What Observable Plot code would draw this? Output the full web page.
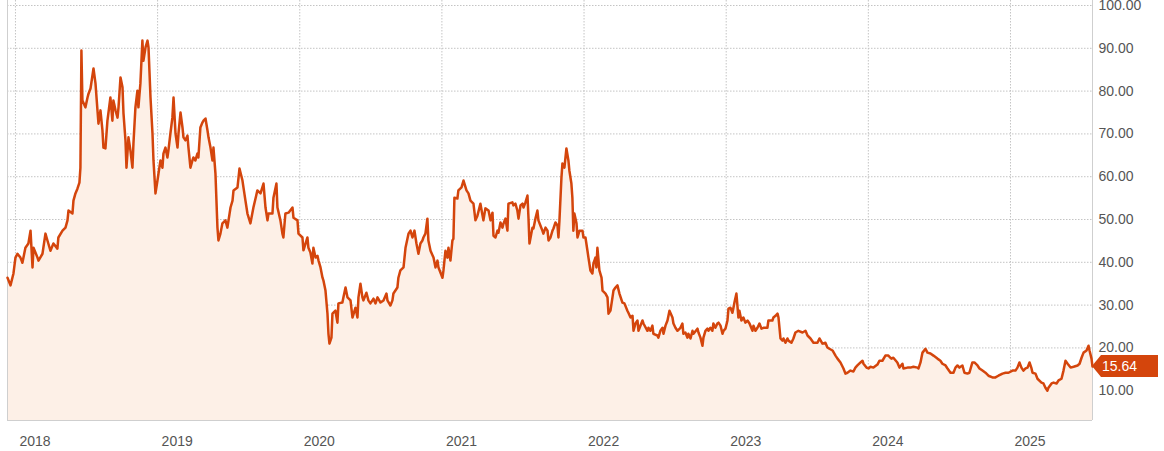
<!DOCTYPE html>
<html>
<head>
<meta charset="utf-8">
<script src="https://cdn.jsdelivr.net/npm/d3@7"></script>
<script src="https://cdn.jsdelivr.net/npm/@observablehq/plot@0.6"></script>
<style>
  html, body { margin: 0; padding: 0; background: #fff; }
  #chart svg { display: block; }
</style>
</head>
<body>
<div id="chart"></div>
<script>
// Time in decimal years, price values
const times = [
2017.944,2017.965,2017.986,2018.000,2018.014,2018.035,2018.049,2018.070,2018.091,2018.106,
2018.120,2018.127,2018.155,2018.162,2018.190,2018.211,2018.225,2018.246,2018.267,2018.295,
2018.302,2018.331,2018.352,2018.366,2018.373,2018.401,2018.408,2018.422,2018.436,2018.450,
2018.457,2018.464,2018.471,2018.492,2018.507,2018.514,2018.528,2018.549,2018.563,2018.577,
2018.584,2018.598,2018.612,2018.619,2018.633,2018.647,2018.668,2018.682,2018.689,2018.704,
2018.718,2018.725,2018.739,2018.753,2018.760,2018.774,2018.781,2018.795,2018.809,2018.823,
2018.830,2018.844,2018.858,2018.865,2018.879,2018.893,2018.900,2018.915,2018.929,2018.936,
2018.950,2018.964,2018.971,2018.985,2018.999,2019.006,2019.020,2019.034,2019.041,2019.055,
2019.069,2019.076,2019.090,2019.104,2019.112,2019.126,2019.140,2019.147,2019.161,2019.175,
2019.182,2019.196,2019.210,2019.217,2019.231,2019.245,2019.252,2019.266,2019.280,2019.287,
2019.301,2019.316,2019.323,2019.337,2019.351,2019.358,2019.372,2019.386,2019.393,2019.407,
2019.421,2019.428,2019.442,2019.456,2019.477,2019.491,2019.513,2019.527,2019.534,2019.562,
2019.576,2019.597,2019.604,2019.618,2019.632,2019.653,2019.674,2019.702,2019.724,2019.745,
2019.759,2019.773,2019.780,2019.808,2019.815,2019.836,2019.843,2019.864,2019.878,2019.885,
2019.899,2019.921,2019.949,2019.956,2019.984,2019.991,
2020.019,2020.026,2020.054,2020.061,2020.075,2020.089,2020.096,2020.111,2020.125,2020.132,
2020.146,2020.160,2020.167,2020.181,2020.195,2020.202,2020.209,2020.223,2020.230,2020.251,
2020.265,2020.272,2020.300,2020.307,2020.322,2020.336,2020.357,2020.371,2020.392,2020.406,
2020.413,2020.427,2020.441,2020.448,2020.469,2020.483,2020.497,2020.519,2020.533,2020.547,
2020.568,2020.589,2020.610,2020.617,2020.638,2020.652,2020.659,2020.687,2020.694,2020.708,
2020.730,2020.744,2020.765,2020.779,2020.793,2020.807,2020.821,2020.835,2020.849,2020.863,
2020.870,2020.884,2020.898,2020.905,2020.920,2020.941,2020.955,2020.969,2020.976,
2021.004,2021.011,2021.025,2021.039,2021.046,2021.060,2021.074,2021.081,2021.088,2021.109,
2021.116,2021.138,2021.152,2021.173,2021.187,2021.201,2021.222,2021.236,2021.250,2021.271,
2021.292,2021.306,2021.328,2021.342,2021.356,2021.363,2021.377,2021.391,2021.398,2021.412,
2021.426,2021.433,2021.447,2021.461,2021.468,2021.496,2021.503,2021.517,2021.531,2021.539,
2021.553,2021.567,2021.574,2021.588,2021.602,2021.609,2021.616,2021.637,2021.644,2021.658,
2021.672,2021.679,2021.693,2021.707,2021.714,2021.729,2021.743,2021.750,2021.764,2021.778,
2021.785,2021.799,2021.813,2021.820,2021.827,2021.841,2021.848,2021.862,2021.876,2021.890,
2021.897,2021.911,2021.918,2021.925,2021.932,2021.947,2021.954,2021.968,2021.989,2021.996,
2022.010,2022.024,2022.031,2022.045,2022.059,2022.066,2022.080,2022.087,2022.094,2022.108,
2022.123,2022.130,2022.151,2022.165,2022.172,2022.186,2022.200,2022.207,2022.221,2022.235,
2022.249,2022.270,2022.284,2022.305,2022.312,2022.327,2022.341,2022.348,2022.362,2022.376,
2022.383,2022.411,2022.418,2022.446,2022.453,2022.467,2022.481,2022.488,2022.516,2022.523,
2022.537,2022.552,2022.559,2022.573,2022.587,2022.601,2022.622,2022.629,2022.643,2022.657,
2022.678,2022.692,2022.699,2022.713,2022.727,2022.734,2022.749,2022.763,2022.770,2022.798,
2022.805,2022.819,2022.833,2022.840,2022.854,2022.868,2022.875,2022.889,2022.903,2022.910,
2022.924,2022.938,2022.946,2022.960,2022.974,2022.981,2022.995,
2023.009,2023.016,2023.030,2023.044,2023.051,2023.058,2023.072,2023.086,2023.093,2023.107,
2023.121,2023.135,2023.150,2023.164,2023.185,2023.192,2023.206,2023.220,2023.234,2023.248,
2023.262,2023.290,2023.297,2023.325,2023.332,2023.347,2023.361,2023.368,2023.382,2023.396,
2023.403,2023.417,2023.431,2023.438,2023.459,2023.473,2023.487,2023.508,2023.537,2023.558,
2023.572,2023.593,2023.614,2023.642,2023.656,2023.677,2023.698,2023.712,2023.726,2023.748,
2023.769,2023.783,2023.804,2023.825,2023.839,2023.853,2023.874,2023.895,2023.909,2023.923,
2023.945,2023.959,2023.966,2023.987,
2024.001,2024.015,2024.036,2024.064,2024.078,2024.099,2024.120,2024.141,2024.155,2024.162,
2024.176,2024.204,2024.219,2024.240,2024.247,2024.275,2024.296,2024.317,2024.346,2024.353,
2024.367,2024.381,2024.402,2024.416,2024.437,2024.458,2024.486,2024.507,2024.521,2024.543,
2024.557,2024.578,2024.599,2024.613,2024.627,2024.641,2024.662,2024.676,2024.697,2024.711,
2024.732,2024.746,2024.768,2024.782,2024.803,2024.824,2024.845,2024.873,2024.894,2024.915,
2024.944,2024.965,2024.986,
2025.014,2025.035,2025.049,2025.063,2025.077,2025.091,2025.106,2025.120,2025.134,2025.148,
2025.155,2025.176,2025.190,2025.218,2025.232,2025.246,2025.260,2025.267,2025.289,2025.303,
2025.324,2025.338,2025.359,2025.373,2025.387,2025.402,2025.423,2025.444,2025.472,2025.486,
2025.500,2025.514,2025.535,2025.549,2025.556,2025.570,2025.577
];
const prices = [
36.4,34.6,37.4,41.1,42.0,41.1,39.9,43.4,44.4,47.4,
38.8,43.4,41.1,40.4,42.0,46.7,45.1,42.7,44.4,43.2,
45.8,47.4,48.1,49.8,52.1,51.4,54.4,56.1,57.2,58.6,
62.1,89.5,77.8,76.2,78.5,79.4,80.6,85.3,81.8,75.5,
72.4,75.5,70.8,66.8,66.6,73.1,78.5,73.1,77.8,75.5,
73.8,76.2,83.2,80.9,74.8,68.5,62.1,69.2,66.1,62.1,
67.7,76.2,80.1,76.2,81.8,91.8,87.1,90.2,91.8,90.2,
78.5,70.1,63.8,56.1,59.1,60.7,63.8,62.1,65.4,66.8,
64.5,66.1,70.1,73.8,78.5,70.1,66.8,70.1,75.0,71.5,
69.2,68.5,69.6,66.8,62.1,63.8,64.5,63.8,65.4,64.5,
71.5,72.7,73.1,73.6,70.8,69.2,66.8,63.8,66.8,60.7,
48.1,45.1,46.7,49.1,49.8,48.1,52.8,54.4,56.8,57.5,
61.9,59.1,57.5,54.4,51.4,49.1,52.8,56.8,56.1,58.4,
52.8,49.8,51.4,51.4,55.1,58.4,52.8,49.8,46.7,45.8,
51.4,51.6,52.8,50.4,49.8,46.7,
45.8,42.8,45.8,43.4,42.3,39.7,43.4,41.1,41.5,40.4,
38.8,36.4,35.7,33.4,28.0,23.3,21.0,22.4,28.0,28.7,
25.9,30.4,30.6,31.8,34.1,31.8,31.1,27.1,29.4,27.1,
31.8,35.0,31.8,31.1,32.9,31.1,30.4,31.5,30.4,31.8,
30.6,31.1,32.7,31.1,29.9,31.1,32.7,34.1,36.4,38.1,
38.8,43.4,46.7,47.4,45.8,47.4,44.4,42.0,44.4,45.1,
45.8,46.7,50.2,45.1,42.7,41.1,38.8,40.4,38.8,
36.4,38.1,42.7,41.1,43.4,40.4,45.1,45.5,55.1,54.9,
56.8,57.5,59.1,56.8,56.1,54.4,53.7,49.8,50.9,53.7,
49.8,52.6,52.1,49.8,51.6,46.2,45.8,47.4,46.9,49.3,
48.1,49.0,50.2,47.4,53.7,54.0,53.3,53.7,52.1,50.2,
53.3,53.7,52.8,54.0,55.6,50.5,44.4,48.1,47.9,50.2,
52.1,49.8,48.6,47.4,46.7,48.1,47.4,45.1,45.8,47.4,
47.9,49.3,48.6,45.8,49.8,59.8,63.1,62.1,66.6,63.8,
61.4,58.4,55.1,47.4,51.4,49.1,45.8,47.4,47.4,45.8,
45.8,42.7,41.1,38.1,37.4,39.7,41.1,38.8,43.4,38.1,
36.4,33.4,32.7,31.8,28.0,28.7,31.8,33.4,34.1,34.6,
32.7,30.6,30.4,28.7,28.2,27.1,27.5,24.0,25.7,26.4,
24.0,26.4,25.7,24.0,24.7,24.0,25.2,23.3,22.9,22.4,
24.0,24.7,23.3,25.2,26.4,28.7,27.1,25.7,24.7,24.0,
24.7,25.7,23.3,23.6,22.4,23.3,22.2,24.0,23.3,24.5,
23.6,22.4,20.5,22.4,24.0,24.5,24.0,24.7,24.0,25.7,
24.7,25.7,25.9,25.2,23.3,24.0,24.5,
26.4,29.2,29.4,28.2,29.4,30.6,32.7,27.1,28.7,26.4,
27.1,25.9,26.4,25.7,24.0,25.2,24.0,24.7,25.7,24.5,
24.7,24.7,26.4,26.4,27.1,27.5,28.0,27.1,22.2,21.7,
22.2,21.2,22.2,21.7,21.2,22.2,23.6,24.0,23.6,24.0,
22.9,22.2,21.2,21.2,22.2,21.0,21.2,20.1,19.8,19.4,
18.2,17.5,16.6,15.2,14.0,14.2,14.7,14.5,15.4,15.9,
16.6,17.0,16.3,15.4,
15.2,15.6,15.4,16.1,17.0,17.0,18.2,18.2,17.7,17.5,
17.7,16.6,15.4,16.3,15.2,15.4,15.4,15.6,15.4,15.2,
16.6,18.9,19.8,18.9,18.7,18.2,17.5,17.0,16.3,15.9,
15.2,14.2,14.2,15.4,15.9,15.4,15.9,14.2,14.0,14.2,
16.6,16.6,15.9,15.2,14.7,14.2,13.5,13.1,13.1,13.5,
14.0,14.2,14.2,
14.7,14.7,15.4,16.6,15.4,14.7,15.2,15.4,16.6,15.2,
14.2,14.0,12.8,11.9,11.7,10.7,10.0,10.7,11.7,11.9,
11.7,12.4,12.8,14.7,17.0,16.3,15.4,15.6,15.9,16.3,
17.7,18.9,19.4,20.5,19.4,17.5,15.64
];
const yTicks = [10, 20, 30, 40, 50, 60, 70, 80, 90, 100];
const yearTicks = [2018, 2019, 2020, 2021, 2022, 2023, 2024, 2025];
const xDomain = [2017.944, 2025.577];
const yDomain = [3.04, 101.17];
const lastPrice = 15.64;
const lastLabel = "15.64";

const data = times.map((t, i) => ({t, v: prices[i]}));

const LINE = "#d4450c";
const FILL = "#fdf0e7";
const GRID = "#c4c4c4";
const BORDER = "#cfcfcf";

function tagMark(index, scales, values, dimensions) {
  const yc = scales.y(lastPrice);
  const x0 = dimensions.width - dimensions.marginRight;
  const g = d3.create("svg:g");
  g.append("path")
    .attr("d", `M${x0},${yc} L${x0 + 9},${yc - 11} L${x0 + 66},${yc - 11} L${x0 + 66},${yc + 11} L${x0 + 9},${yc + 11} Z`)
    .attr("fill", LINE);
  g.append("text")
    .attr("x", x0 + 10)
    .attr("y", yc)
    .attr("dy", "0.36em")
    .attr("text-anchor", "start")
    .attr("fill", "#fff")
    .attr("font-size", 14)
    .text(lastLabel);
  return g.node();
}

const chart = Plot.plot({
  width: 1164,
  height: 451,
  marginLeft: 7,
  marginRight: 72,
  marginTop: 0,
  marginBottom: 31,
  x: {type: "linear", domain: xDomain, label: null},
  y: {domain: yDomain, label: null},
  style: {
    fontFamily: "'Liberation Sans', Arial, Helvetica, sans-serif",
    fontSize: "14px",
    color: "#555",
    background: "white"
  },
  marks: [
    Plot.gridY(yTicks, {stroke: GRID, strokeOpacity: 1, strokeDasharray: "1.5,1.5"}),
    Plot.gridX(yearTicks, {stroke: GRID, strokeOpacity: 1, strokeDasharray: "1.5,1.5"}),
    Plot.areaY(data, {x: "t", y: "v", fill: FILL, clip: true}),
    Plot.ruleX(xDomain, {stroke: BORDER}),
    Plot.ruleY([yDomain[0]], {stroke: BORDER}),
    Plot.lineY(data, {x: "t", y: "v", stroke: LINE, strokeWidth: 2.5, strokeLinejoin: "round"}),
    Plot.axisY(yTicks, {anchor: "right", label: null, tickSize: 0, tickPadding: 6, tickFormat: d => d.toFixed(2), fontSize: 14}),
    Plot.axisX(yearTicks, {anchor: "bottom", label: null, tickSize: 0, tickPadding: 16, textAnchor: "start", dx: 4, tickFormat: d => String(d), fontSize: 14}),
    tagMark
  ]
});
document.getElementById("chart").appendChild(chart);
</script>
</body>
</html>
